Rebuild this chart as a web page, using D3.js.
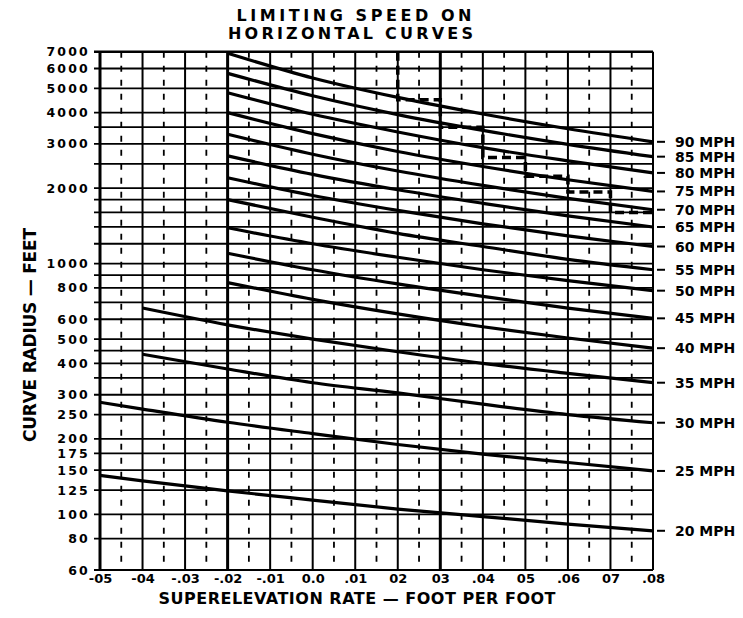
<!DOCTYPE html>
<html>
<head>
<meta charset="utf-8">
<script src="https://cdn.jsdelivr.net/npm/d3@7"></script>
<style>
  body { margin: 0; background: #fff; }
  text { font-family: "DejaVu Sans", sans-serif; font-weight: bold; fill: #000; }
</style>
</head>
<body>
<svg id="root" width="743" height="618"></svg>
<script>
// superelevation ticks + their printed labels (dots lost in the scan, kept as printed)
const xTicks = [-0.05, -0.04, -0.03, -0.02, -0.01, 0, 0.01, 0.02, 0.03, 0.04, 0.05, 0.06, 0.07, 0.08];
const xLabels = ["-05", "-04", "-.03", "-.02", "-.01", "0.0", ".01", "02", "03", ".04", "05", ".06", "07", ".08"];

// radius gridlines, and the ones that get a label
const yGrid = [7000, 6000, 5000, 4000, 3500, 3000, 2500, 2000, 1800, 1600, 1400, 1200, 1000, 900, 800, 700,
  600, 500, 450, 400, 350, 300, 250, 200, 175, 150, 125, 100, 80, 60];
const yLabels = [7000, 6000, 5000, 4000, 3000, 2000, 1000, 800, 600, 500, 400, 300, 250, 200, 175, 150, 125, 100, 80, 60];

// superelevation values where each curve was read
const eFrom05 = [-0.05, -0.04, -0.02, 0, 0.02, 0.04, 0.06, 0.08];
const eFrom04 = [-0.04, -0.02, 0, 0.02, 0.04, 0.06, 0.08];
const eFrom02 = [-0.02, 0, 0.02, 0.04, 0.06, 0.08];

// curve radius (feet)
const r20 = [143, 136, 124, 114, 105, 98, 91.5, 86];
const r25 = [280, 263, 233, 210, 190, 174, 161, 149];
const r30 = [435, 380, 335, 305, 275, 250, 232];
const r35 = [665, 570, 500, 445, 400, 365, 335];
const r40 = [840, 720, 630, 560, 505, 460];
const r45 = [1100, 945, 830, 740, 665, 605];
const r50 = [1390, 1200, 1060, 945, 855, 780];
const r55 = [1800, 1530, 1320, 1170, 1040, 945];
const r60 = [2200, 1870, 1630, 1440, 1290, 1170];
const r65 = [2690, 2270, 1970, 1740, 1550, 1400];
const r70 = [3280, 2730, 2340, 2050, 1820, 1640];
const r75 = [4000, 3300, 2800, 2440, 2160, 1940];
const r80 = [4800, 3940, 3350, 2900, 2570, 2300];
const r85 = [5740, 4670, 3930, 3400, 2990, 2670];
const r90 = [6900, 5500, 4600, 3950, 3450, 3060];

// dashed step limit line
const stepE = [0.02, 0.03, 0.04, 0.05, 0.06, 0.07, 0.08];
const stepR = [7000, 4500, 3500, 2650, 2230, 1930, 1600];

const curves = [
  { mph: 20, e: eFrom05, r: r20 }, { mph: 25, e: eFrom05, r: r25 },
  { mph: 30, e: eFrom04, r: r30 }, { mph: 35, e: eFrom04, r: r35 },
  { mph: 40, e: eFrom02, r: r40 }, { mph: 45, e: eFrom02, r: r45 },
  { mph: 50, e: eFrom02, r: r50 }, { mph: 55, e: eFrom02, r: r55 },
  { mph: 60, e: eFrom02, r: r60 }, { mph: 65, e: eFrom02, r: r65 },
  { mph: 70, e: eFrom02, r: r70 }, { mph: 75, e: eFrom02, r: r75 },
  { mph: 80, e: eFrom02, r: r80 }, { mph: 85, e: eFrom02, r: r85 },
  { mph: 90, e: eFrom02, r: r90 }
];

const plotLeft = 100, plotRight = 653, plotTop = 51.7, plotBottom = 570;
const svg = d3.select("#root");

const xScale = d3.scaleLinear([-0.05, 0.08], [plotLeft, plotRight]);
const yScale = d3.scaleLog([60, 7000], [plotBottom, plotTop]);

// horizontal grid (runs a little past the left edge as ticks)
svg.append("g").selectAll("line")
  .data(yGrid)
  .join("line")
  .attr("x1", plotLeft - 6).attr("x2", plotRight)
  .attr("y1", d => yScale(d)).attr("y2", d => yScale(d))
  .attr("stroke", "#000")
  .attr("stroke-width", d => d == 7000 ? 2.5 : 1.8);

// dashed half-step verticals
const xHalf = xTicks.slice(1).map((d, i) => (d + xTicks[i]) / 2);
svg.append("g").selectAll("line")
  .data(xHalf)
  .join("line")
  .attr("x1", d => xScale(d)).attr("x2", d => xScale(d))
  .attr("y1", plotTop).attr("y2", plotBottom)
  .attr("stroke", "#000")
  .attr("stroke-width", 1.8)
  .attr("stroke-dasharray", "6,8");

// solid verticals
const heavyX = [-0.05, -0.02, 0.03];
svg.append("g").selectAll("line")
  .data(xTicks)
  .join("line")
  .attr("x1", d => xScale(d)).attr("x2", d => xScale(d))
  .attr("y1", plotTop).attr("y2", plotBottom)
  .attr("stroke", "#000")
  .attr("stroke-width", d => heavyX.some(h => Math.abs(h - d) < 1e-9) ? 3 : 2);

// y tick labels
const yAxis = d3.axisLeft(yScale).tickValues(yLabels).tickFormat(d => d).tickSize(0).tickPadding(10);
svg.append("g")
  .attr("transform", `translate(${plotLeft},0)`)
  .call(yAxis)
  .call(g => g.select(".domain").remove())
  .selectAll("text")
  .attr("font-size", 12.5)
  .attr("letter-spacing", 2.2)
  .attr("fill", "#000");

// x tick labels
const xAxis = d3.axisBottom(xScale).tickValues(xTicks).tickFormat((d, i) => xLabels[i]).tickSize(0).tickPadding(4);
svg.append("g")
  .attr("transform", `translate(0,${plotBottom})`)
  .call(xAxis)
  .call(g => g.select(".domain").remove())
  .selectAll("text")
  .attr("font-size", 13)
  .attr("fill", "#000");

// speed curves
const line = d3.line()
  .x(d => xScale(d[0]))
  .y(d => yScale(d[1]))
  .curve(d3.curveMonotoneX);

svg.append("g").selectAll("path")
  .data(curves)
  .join("path")
  .attr("d", c => line(c.e.map((e, i) => [e, c.r[i]])))
  .attr("fill", "none")
  .attr("stroke", "#000")
  .attr("stroke-width", 3.2);

// dashed step line
const stepLine = d3.line()
  .x(d => xScale(d[0]))
  .y(d => yScale(d[1]))
  .curve(d3.curveStepBefore);
svg.append("path")
  .attr("d", stepLine(stepE.map((e, i) => [e, stepR[i]])))
  .attr("fill", "none")
  .attr("stroke", "#000")
  .attr("stroke-width", 3.5)
  .attr("stroke-dasharray", "9,5");

// speed labels at the right end of each curve
const lab = svg.append("g").selectAll("g")
  .data(curves)
  .join("g")
  .attr("transform", c => `translate(${plotRight},${yScale(c.r[c.r.length - 1])})`);
lab.append("line")
  .attr("x1", 4).attr("x2", 12)
  .attr("stroke", "#000").attr("stroke-width", 2);
lab.append("text")
  .attr("x", 22)
  .attr("dy", "0.36em")
  .attr("font-size", 14)
  .text(c => c.mph + " MPH");

// titles
svg.append("text")
  .attr("x", 354).attr("y", 20.5)
  .attr("text-anchor", "middle")
  .attr("font-size", 16)
  .attr("textLength", 235).attr("lengthAdjust", "spacing")
  .text("LIMITING SPEED ON");
svg.append("text")
  .attr("x", 350.5).attr("y", 39)
  .attr("text-anchor", "middle")
  .attr("font-size", 16)
  .attr("textLength", 245).attr("lengthAdjust", "spacing")
  .text("HORIZONTAL CURVES");

svg.append("text")
  .attr("x", 357).attr("y", 604)
  .attr("text-anchor", "middle")
  .attr("font-size", 16)
  .attr("textLength", 397).attr("lengthAdjust", "spacing")
  .text("SUPERELEVATION  RATE \u2014 FOOT PER FOOT");

svg.append("text")
  .attr("transform", "rotate(-90)")
  .attr("x", -335).attr("y", 36)
  .attr("text-anchor", "middle")
  .attr("font-size", 17)
  .attr("textLength", 214).attr("lengthAdjust", "spacing")
  .text("CURVE  RADIUS \u2014 FEET");
</script>
</body>
</html>
